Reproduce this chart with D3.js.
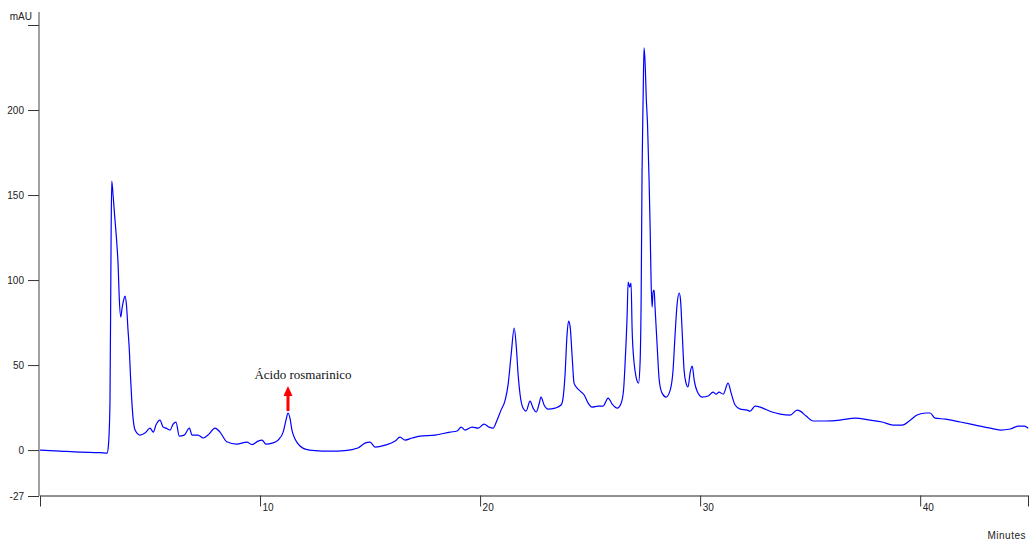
<!DOCTYPE html>
<html>
<head>
<meta charset="utf-8">
<script src="https://cdn.jsdelivr.net/npm/d3@7"></script>
<style>
  body { margin: 0; background: #fff; }
  svg text { font-family: "Liberation Sans", Arial, sans-serif; }
  svg text.note { font-family: "Liberation Serif", "Times New Roman", serif; }
</style>
</head>
<body>
<svg id="chart" width="1030" height="545"></svg>
<script>
// retention time (minutes) and absorbance (mAU)
let minutes = [0, 0.91, 1.82, 2.73, 3.05, 3.11, 3.18, 3.23, 3.26, 3.32, 3.39, 3.49, 3.55, 3.6, 3.67, 3.73, 3.8, 3.86, 3.93, 4.0,
  4.06, 4.11, 4.17, 4.23, 4.32, 4.55, 4.77, 5.0, 5.15, 5.27, 5.45, 5.6, 5.73, 5.91, 6.05, 6.18, 6.33, 6.55, 6.79, 6.91,
  7.18, 7.42, 7.68, 7.95, 8.18, 8.49, 8.94, 9.4, 9.64, 9.91, 10.09, 10.27, 10.55, 10.82, 11.05, 11.18, 11.27, 11.36, 11.45, 11.59,
  11.82, 12.05, 12.5, 13.18, 13.86, 14.45, 14.77, 15.0, 15.23, 15.68, 16.14, 16.36, 16.59, 16.91, 17.27, 17.95, 18.64, 18.95, 19.14, 19.32,
  19.64, 19.91, 20.18, 20.41, 20.59, 20.77, 20.95, 21.14, 21.27, 21.41, 21.55, 21.64, 21.73, 21.82, 21.95, 22.09, 22.27, 22.41, 22.55, 22.68,
  22.77, 22.91, 23.09, 23.41, 23.68, 23.77, 23.86, 23.95, 24.02, 24.09, 24.18, 24.27, 24.41, 24.55, 24.73, 24.91, 25.09, 25.36, 25.59, 25.82,
  26.0, 26.23, 26.41, 26.52, 26.59, 26.68, 26.73, 26.8, 26.86, 26.91, 27.0, 27.09, 27.2, 27.27, 27.32, 27.36, 27.41, 27.45, 27.5, 27.55,
  27.61, 27.68, 27.73, 27.77, 27.82, 27.86, 27.91, 27.95, 28.05, 28.14, 28.27, 28.45, 28.64, 28.77, 28.86, 28.95, 29.05, 29.11, 29.18, 29.27,
  29.36, 29.45, 29.55, 29.64, 29.73, 29.86, 30.09, 30.36, 30.59, 30.73, 30.86, 31.05, 31.27, 31.41, 31.59, 31.82, 32.14, 32.27, 32.5, 32.73,
  32.95, 33.27, 33.64, 34.09, 34.41, 34.55, 34.82, 35.14, 35.68, 36.36, 37.05, 37.73, 38.27, 38.77, 39.18, 39.55, 39.86, 40.27, 40.45, 40.68,
  41.14, 41.82, 42.5, 43.18, 43.64, 44.09, 44.45, 44.73, 44.91]

let mAU = [0, -0.6, -1.2, -1.5, -1.8, 2.9, 27.6, 123.5, 158.2, 150, 138.2, 121.8, 108.8, 90, 78.2, 83.5, 88.2, 90.6, 85.3, 70.6,
  58.8, 44.1, 29.4, 18.8, 11.8, 8.8, 10, 12.9, 10.6, 14.7, 17.6, 13.5, 12.9, 11.8, 15.3, 16.5, 8.2, 8.8, 12.9, 8.8,
  8.8, 7.1, 9.4, 12.9, 10.6, 4.9, 3.5, 4.7, 3.2, 5.3, 5.9, 3.5, 4.1, 5.9, 10.6, 17.6, 21.8, 18.8, 11.8, 6.5,
  2.4, 0.6, -0.3, -0.6, -0.3, 1.2, 4.1, 4.7, 1.8, 2.9, 5.3, 7.6, 5.9, 7.1, 8.2, 8.8, 10.6, 11.2, 13.5, 11.8,
  13.5, 12.9, 15.3, 13.5, 12.9, 17.6, 23.5, 29.4, 38.2, 55.9, 71.8, 61.8, 44.1, 32.4, 24.7, 22.9, 28.8, 24.7, 22.4, 27.1,
  31.2, 26.5, 24.1, 24.7, 26.5, 30.6, 44.1, 67.6, 75.9, 72.9, 55.9, 39.4, 36.5, 34.7, 32.4, 27.6, 25.3, 25.9, 25.9, 30.6,
  27.1, 24.7, 27.6, 35.3, 51.2, 78.2, 98.8, 95.9, 98.2, 70.6, 51.2, 42.9, 39.4, 51.2, 90, 162.9, 207.6, 236.5, 227.6, 207.6,
  191.2, 158.8, 129.4, 100, 84.1, 92.9, 94.1, 84.1, 60.6, 41.2, 33.5, 31.2, 35.3, 47.1, 67.6, 85.3, 92.4, 88.2, 70.6, 47.1,
  39.4, 37.1, 45.9, 49.4, 41.2, 34.7, 31.2, 31.8, 34.1, 32.9, 34.1, 32.9, 39.4, 33.5, 26.5, 24.1, 23.5, 22.9, 25.9, 25.3,
  24.1, 22.4, 21.2, 20.6, 23.5, 22.9, 20, 17.1, 17.1, 17.6, 18.8, 17.6, 16.5, 14.7, 14.7, 17.6, 20.6, 21.8, 21.8, 18.8,
  18.2, 16.5, 14.7, 12.9, 11.8, 12.4, 14.1, 14.1, 12.9]

let yTicks = [-27, 0, 50, 100, 150, 200, 250]
let xTicks = [0, 10, 20, 30, 40, 44.9]
let peakLabel = "Ácido rosmarinico"
let peakTime = 11.27
let peakValue = 21.8

let svg = d3.select("#chart")

let x = d3.scaleLinear().domain([0, 44.9]).range([40, 1028])
let y = d3.scaleLinear().domain([-27, 250]).range([496, 25])

// y axis
let yAxis = svg.append("g")
  .attr("transform", "translate(39,0)")
  .call(d3.axisLeft(y).tickValues(yTicks).tickSize(11).tickPadding(4)
    .tickFormat(d => d == 250 ? "" : d))
yAxis.select(".domain").remove()
yAxis.selectAll("line").attr("stroke", "#333")
yAxis.selectAll("text").attr("font-size", 10).attr("fill", "#222")

svg.append("line")
  .attr("x1", 39).attr("x2", 39)
  .attr("y1", 12).attr("y2", 496)
  .attr("stroke", "#444").attr("stroke-width", 1)

svg.append("text")
  .attr("x", 32).attr("y", 20)
  .attr("text-anchor", "end")
  .attr("font-size", 10).attr("fill", "#222")
  .text("mAU")

// x axis
let xAxis = svg.append("g")
  .attr("transform", "translate(0,495.5)")
  .call(d3.axisBottom(x).tickValues(xTicks).tickSize(11).tickSizeOuter(0)
    .tickFormat(d => (d == 0 || d > 44) ? "" : d))
xAxis.select(".domain").attr("stroke", "#222")
xAxis.selectAll("line").attr("stroke", "#333")
xAxis.selectAll("text")
  .attr("text-anchor", "start")
  .attr("x", 2).attr("y", 12).attr("dy", "0.35em")
  .attr("font-size", 10).attr("fill", "#222")

svg.append("text")
  .attr("x", 1026).attr("y", 539)
  .attr("text-anchor", "end")
  .attr("font-size", 10).attr("fill", "#222")
  .attr("letter-spacing", 0.5)
  .text("Minutes")

// trace
let line = d3.line()
  .x((d, i) => x(minutes[i]))
  .y(d => y(d))
  .curve(d3.curveMonotoneX)

svg.append("path")
  .datum(mAU)
  .attr("d", line)
  .attr("fill", "none")
  .attr("stroke", "#0000ff")
  .attr("stroke-width", 1.2)
  .attr("stroke-linejoin", "round")

// annotation
let ax = x(peakTime)
let ay = y(peakValue)

svg.append("line")
  .attr("x1", ax).attr("x2", ax)
  .attr("y1", ay - 2).attr("y2", ay - 20)
  .attr("stroke", "#ff0000").attr("stroke-width", 3)

svg.append("path")
  .attr("d", `M${ax - 4.5},${ay - 17} L${ax},${ay - 27} L${ax + 4.5},${ay - 17} Z`)
  .attr("fill", "#ff0000")

svg.append("text")
  .attr("class", "note")
  .attr("x", ax + 15).attr("y", ay - 34)
  .attr("text-anchor", "middle")
  .attr("font-size", 13).attr("fill", "#111")
  .text(peakLabel)
</script>
</body>
</html>
